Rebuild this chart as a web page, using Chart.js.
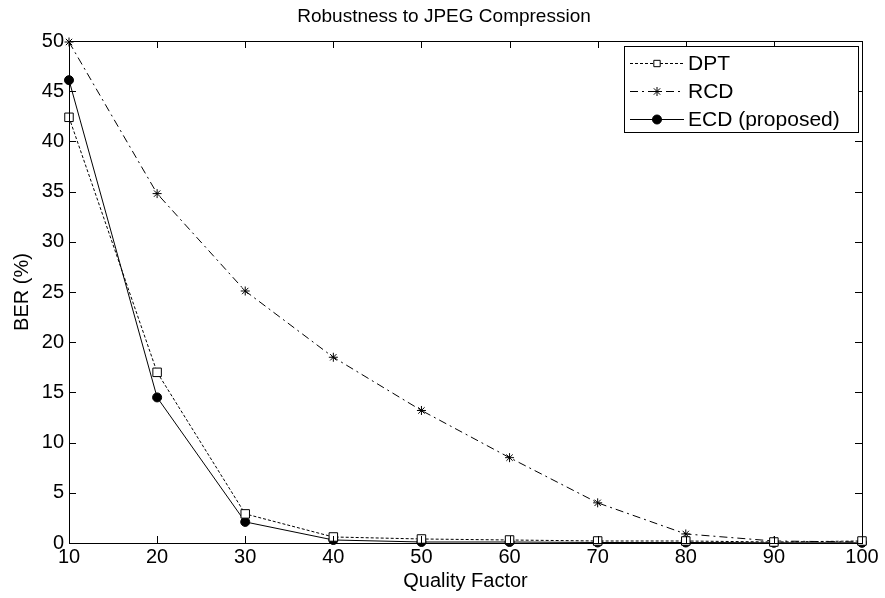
<!DOCTYPE html>
<html>
<head>
<meta charset="utf-8">
<script src="https://cdn.jsdelivr.net/npm/chart.js@4/dist/chart.umd.min.js"></script>
<style>
html,body{margin:0;padding:0;background:#fff;}
#wrap{width:885px;height:598px;position:relative;}
</style>
</head>
<body>
<div id="wrap"><canvas id="c" width="885" height="598"></canvas></div>
<script>
// ---- data ----
const qualityFactors = [10, 20, 30, 40, 50, 60, 70, 80, 90, 100];
const dptValues = [42.4, 17.0, 2.9, 0.6, 0.4, 0.3, 0.2, 0.2, 0.1, 0.2];
const rcdValues = [49.9, 34.8, 25.1, 18.5, 13.2, 8.5, 4.0, 0.9, 0.2, 0.1];
const ecdValues = [46.1, 14.5, 2.1, 0.3, 0.1, 0.1, 0.05, 0.05, 0.02, 0.02];
const seriesNames = ['DPT', 'RCD', 'ECD (proposed)'];
const xTicks = [10, 20, 30, 40, 50, 60, 70, 80, 90, 100];
const yTicks = [0, 5, 10, 15, 20, 25, 30, 35, 40, 45, 50];
const chartTitle = 'Robustness to JPEG Compression';
const xTitle = 'Quality Factor';
const yTitle = 'BER (%)';

const FONT = "'Liberation Sans', Arial, Helvetica, sans-serif";
const FS = 20;
const TFS = 19;
const LFS = 21;

function toPoints(vals){ return qualityFactors.map((q,i)=>({x:q,y:vals[i]})); }

const datasets = [
  {label: seriesNames[0], data: toPoints(dptValues), borderColor:'#000', backgroundColor:'#fff',
   borderWidth:1, borderDash:[3,2], pointStyle:'rect', pointRadius:6, pointBorderColor:'#000',
   pointBackgroundColor:'#fff', pointBorderWidth:1, clip:false, tension:0},
  {label: seriesNames[1], data: toPoints(rcdValues), borderColor:'#000', backgroundColor:'#000',
   borderWidth:1, borderDash:[8,4,2,4], pointStyle:'star', pointRadius:4.5, pointBorderColor:'#000',
   pointBackgroundColor:'#000', pointBorderWidth:1, clip:false, tension:0},
  {label: seriesNames[2], data: toPoints(ecdValues), borderColor:'#000', backgroundColor:'#000',
   borderWidth:1, borderDash:[], pointStyle:'circle', pointRadius:4.5, pointBorderColor:'#000',
   pointBackgroundColor:'#000', pointBorderWidth:1, clip:false, tension:0}
];

const matlabAxes = {
  id:'matlabAxes',
  afterDatasetsDraw(chart){
    const {ctx, chartArea:a, scales:{x, y}} = chart;
    ctx.save();
    ctx.strokeStyle = '#000';
    ctx.lineWidth = 1;
    ctx.setLineDash([]);
    ctx.strokeRect(Math.round(a.left)+0.5, Math.round(a.top)+0.5, Math.round(a.right-a.left), Math.round(a.bottom-a.top));
    const L = 7;
    ctx.beginPath();
    x.ticks.forEach(t=>{
      const px = Math.round(x.getPixelForValue(t.value))+0.5;
      ctx.moveTo(px, a.bottom); ctx.lineTo(px, a.bottom-L);
      ctx.moveTo(px, a.top); ctx.lineTo(px, a.top+L);
    });
    y.ticks.forEach(t=>{
      const py = Math.round(y.getPixelForValue(t.value))+0.5;
      ctx.moveTo(a.left, py); ctx.lineTo(a.left+L, py);
      ctx.moveTo(a.right, py); ctx.lineTo(a.right-L, py);
    });
    ctx.stroke();
    ctx.restore();
  },
  afterDraw(chart){
    const {ctx, chartArea:a} = chart;
    ctx.save();
    // title
    ctx.fillStyle = '#000';
    ctx.font = TFS + 'px ' + FONT;
    ctx.textAlign = 'center';
    ctx.textBaseline = 'middle';
    ctx.fillText(chartTitle, 444, 17);
    // legend box
    const bw = 234, bh = 86;
    const bx = a.right - 4 - bw, by = a.top + 5;
    ctx.fillStyle = '#fff';
    ctx.fillRect(bx, by, bw, bh);
    ctx.strokeStyle = '#000';
    ctx.lineWidth = 1;
    ctx.setLineDash([]);
    ctx.strokeRect(Math.round(bx)+0.5, Math.round(by)+0.5, bw, bh);
    ctx.font = LFS + 'px ' + FONT;
    ctx.textBaseline = 'middle';
    ctx.textAlign = 'left';
    chart.data.datasets.forEach((ds, i)=>{
      const cy = Math.round(by + 17 + i*28) + 0.5;
      const x0 = bx + 6, x1 = bx + 60;
      ctx.strokeStyle = ds.borderColor;
      ctx.lineWidth = ds.borderWidth;
      ctx.setLineDash(ds.borderDash || []);
      ctx.beginPath(); ctx.moveTo(x0, cy); ctx.lineTo(x1, cy); ctx.stroke();
      ctx.setLineDash([]);
      ctx.fillStyle = ds.pointBackgroundColor;
      ctx.strokeStyle = ds.pointBorderColor;
      ctx.lineWidth = ds.pointBorderWidth;
      Chart.helpers.drawPoint(ctx, {pointStyle: ds.pointStyle, radius: ds.pointStyle==='rect'?4.5:ds.pointRadius, rotation:0, borderWidth: ds.pointBorderWidth}, (x0+x1)/2, cy);
      ctx.fillStyle = '#000';
      ctx.fillText(ds.label, bx + 64, cy + 1);
    });
    ctx.restore();
  }
};

new Chart(document.getElementById('c'), {
  type:'line',
  data:{datasets},
  plugins:[matlabAxes],
  options:{
    responsive:false,
    animation:false,
    layout:{padding:{left:0, right:23, top:41, bottom:0}},
    plugins:{
      legend:{display:false},
      tooltip:{enabled:false},
      title:{display:false}
    },
    scales:{
      x:{type:'linear', min:10, max:100,
        afterBuildTicks(scale){ scale.ticks = xTicks.map(v=>({value:v})); },
        afterFit(scale){ scale.height = 55; },
        ticks:{color:'#000', font:{family:FONT, size:FS}, padding:2, maxRotation:0, autoSkip:false},
        grid:{display:true, drawOnChartArea:false, drawTicks:false, color:'#000'},
        border:{display:true, color:'#000', width:1},
        title:{display:true, text:xTitle, color:'#000', font:{family:FONT, size:FS}, padding:{top:0, bottom:5}}
      },
      y:{type:'linear', min:0, max:50,
        afterBuildTicks(scale){ scale.ticks = yTicks.map(v=>({value:v})); },
        afterFit(scale){ scale.width = 69; },
        ticks:{color:'#000', font:{family:FONT, size:FS}, padding:5, autoSkip:false},
        grid:{display:true, drawOnChartArea:false, drawTicks:false, color:'#000'},
        border:{display:true, color:'#000', width:1},
        title:{display:true, text:yTitle, color:'#000', font:{family:FONT, size:FS}, padding:{top:10, bottom:0}}
      }
    }
  }
});
</script>
</body>
</html>
